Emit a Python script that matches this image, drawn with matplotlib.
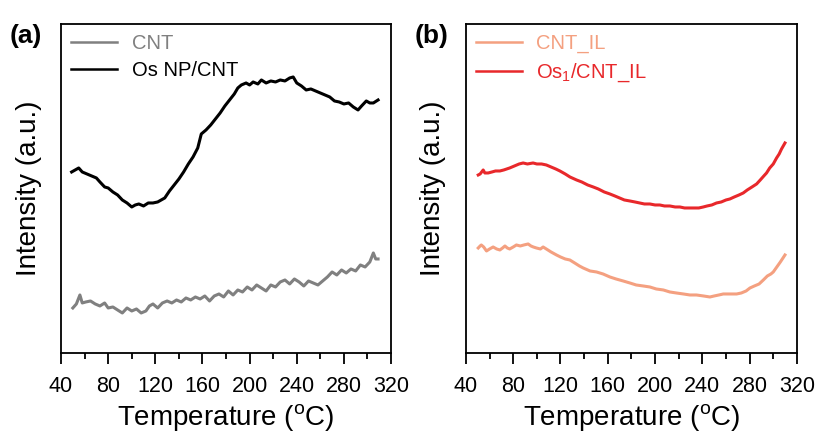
import numpy as np
import matplotlib
matplotlib.use("Agg")
import matplotlib.pyplot as plt
from matplotlib.ticker import MultipleLocator

plt.rcParams['font.family'] = ['Liberation Sans', 'DejaVu Sans']
plt.rcParams['mathtext.default'] = 'regular'

# ---- panel (a) ----
temp_os_np = [49, 52, 55, 58, 62, 66, 70, 73, 77, 80, 84, 88, 92, 96, 100, 103, 106, 110,
              114, 118, 122, 128, 132, 136, 140, 144, 148, 152, 156, 159, 163, 167, 171,
              175, 179, 183, 187, 190, 193, 197, 200, 203, 207, 210, 214, 218, 222, 226,
              230, 234, 237, 240, 244, 248, 252, 256, 260, 264, 268, 272, 276, 280, 284,
              288, 292, 295, 299, 302, 305, 309]
int_os_np = [181, 183, 185, 181, 179, 177, 175, 171, 166, 165, 161, 158, 153, 150, 146, 148,
             149, 147, 150, 150, 151, 155, 162, 168, 174, 181, 189, 196, 205, 219, 223, 228,
             234, 240, 247, 253, 259, 265, 268, 270, 268, 271, 269, 273, 270, 272, 271, 273,
             272, 275, 276, 270, 267, 263, 264, 262, 260, 258, 256, 252, 251, 249, 250, 246,
             243, 247, 252, 250, 250, 253]

temp_cnt = [50, 53, 56, 58, 61, 65, 69, 73, 77, 80, 84, 88, 92, 96, 100, 104, 108, 112, 115,
            118, 122, 126, 130, 134, 138, 142, 146, 150, 154, 158, 162, 166, 170, 174, 178,
            182, 186, 190, 194, 198, 202, 206, 210, 214, 218, 222, 226, 230, 234, 238, 242,
            246, 250, 254, 258, 262, 266, 270, 274, 278, 282, 286, 290, 294, 298, 302, 305,
            307, 309]
int_cnt = [45, 49, 58, 50, 51, 52, 49, 47, 50, 45, 46, 43, 40, 45, 42, 44, 40, 42, 47, 49,
           45, 50, 52, 50, 53, 51, 55, 53, 56, 54, 57, 52, 57, 59, 56, 62, 58, 63, 61, 66,
           63, 68, 65, 62, 68, 66, 71, 73, 69, 74, 71, 67, 72, 70, 68, 72, 76, 81, 78, 83,
           80, 84, 82, 88, 86, 91, 100, 94, 94]

# ---- panel (b) ----
temp_os1 = [50.4, 52, 54.6, 56, 58.8, 62, 65, 68.7, 72, 77, 81, 85, 88.4, 92, 96.8, 100, 104,
            108, 112, 116, 119.5, 124, 128, 133.6, 138, 143, 147.7, 152, 157, 161.8, 166,
            170, 174, 178.7, 183, 187, 191, 195.6, 200, 204, 208, 212.5, 217, 221, 225,
            229.5, 233, 237, 240.8, 244, 248, 252, 256, 260, 263.3, 267, 271, 274.6, 278,
            282, 285.9, 289, 292, 294.3, 297, 300, 302.8, 305, 307, 309.9]
int_os1 = [178, 179, 183, 180, 180, 181, 182, 182, 183, 185, 187, 189, 190, 189, 190, 189,
           189, 188, 186, 184, 182, 179, 176, 173, 171, 168, 166, 164, 161, 159, 157, 155,
           153, 152, 151, 150, 149, 149, 148, 148, 147, 147, 146, 146, 145, 145, 145, 145,
           146, 147, 148, 150, 151, 153, 154, 156, 158, 160, 163, 166, 169, 173, 177, 180,
           185, 189, 195, 199, 204, 210]

temp_cnt_il = [50.4, 52, 53, 55, 57.4, 60, 63, 66, 68.7, 71, 73, 75, 77, 80, 82.7, 86, 89,
               92.6, 95, 97, 99.6, 103, 105.3, 108, 112, 116.6, 120, 124, 127.9, 132, 136,
               139.2, 145, 150.5, 156, 161.8, 167, 173, 178.7, 184, 190, 195.6, 201, 207,
               212.5, 218, 224, 229.5, 235, 241, 246.4, 250, 254, 257.7, 262, 266, 269, 273,
               277, 280.3, 284, 288, 291.6, 295, 298, 300, 303, 306, 309.9]
int_cnt_il = [105, 107, 108, 106, 102, 104, 106, 104, 103, 105, 107, 105, 104, 106, 108, 107,
              108, 109, 107, 106, 105, 104, 106, 104, 101, 98, 96, 94, 93, 90, 87, 85, 82, 81,
              79, 76, 74, 72, 70, 68, 67, 66, 64, 63, 61, 60, 59, 58, 58, 57, 56, 57, 58, 59,
              59, 59, 59, 60, 62, 65, 67, 69, 73, 77, 79, 81, 86, 91, 98]

xticks = [40, 80, 120, 160, 200, 240, 280, 320]

fig = plt.figure(figsize=(8.16, 4.44), dpi=100)
ax1 = fig.add_axes([0.0748, 0.205, 0.4044, 0.741])
ax2 = fig.add_axes([0.571, 0.205, 0.4056, 0.741])

lw = 2.2
ax1.plot(temp_cnt, int_cnt, color='#808080', lw=lw, label='CNT')
ax1.plot(temp_os_np, int_os_np, color='black', lw=lw, label='Os NP/CNT')
ax2.plot(temp_cnt_il, int_cnt_il, color='#F4A080', lw=lw, label='CNT_IL')
ax2.plot(temp_os1, int_os1, color='#E8282B', lw=lw, label='Os$_1$/CNT_IL')

for ax, tag in [(ax1, '(a)'), (ax2, '(b)')]:
    ax.set_xlim(40, 320)
    ax.set_ylim(0, 329)
    ax.set_xticks(xticks)
    ax.xaxis.set_minor_locator(MultipleLocator(20))
    ax.set_yticks([])
    ax.tick_params(axis='x', which='major', direction='out', length=8, width=1.3,
                   labelsize=15.5, pad=8.5)
    ax.tick_params(axis='x', which='minor', direction='out', length=4.5, width=1.3)
    for s in ax.spines.values():
        s.set_linewidth(1.3)
    ax.set_xlabel('Temperature ($^{o}$C)', fontsize=20, labelpad=4)
    ax.set_ylabel('Intensity (a.u.)', fontsize=20, labelpad=14)
    leg = ax.legend(loc='upper left', frameon=False, fontsize=14.5, handlelength=2.3,
                    borderaxespad=0.1, labelspacing=0.4, handletextpad=0.7)
    for line, text in zip(leg.get_lines(), leg.get_texts()):
        text.set_color(line.get_color())
        line.set_linewidth(1.8)
    ax.text(-0.155, 1.0, tag, transform=ax.transAxes, fontsize=19, fontweight='bold',
            va='top', ha='left')

fig.savefig('out.png', dpi=100)
